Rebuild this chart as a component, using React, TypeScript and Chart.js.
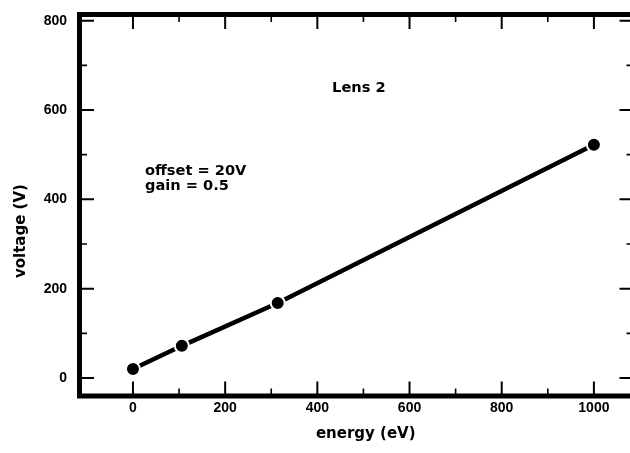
import React, { useEffect, useRef } from "react";
import { Chart, registerables } from "chart.js";

Chart.register(...registerables);

const energy = [0, 106, 314, 1000];
const voltage = [20, 72, 168, 522];

const xMajorTicks = [0, 200, 400, 600, 800, 1000];
const xMinorTicks = [100, 300, 500, 700, 900];
const yMajorTicks = [0, 200, 400, 600, 800];
const yMinorTicks = [100, 300, 500, 700];

const xRange = [-116, 1087];
const yRange = [-40.3, 813.8];

const noteTexts = ["Lens 2", "offset = 20V", "gain = 0.5"];
const noteX = [432, 26, 26];
const noteY = [640, 454, 421];

const xTitle = "energy (eV)";
const yTitle = "voltage (V)";
const xTitleAt = 505;
const yTitleAt = 329;

const TEXT_FONT = "bold 14.6px 'DejaVu Sans'";
const TITLE_FONT = "bold 15px 'DejaVu Sans'";

const AREA = { left: 79.5, top: 14.5, right: 634, bottom: 396 };
const CANVAS_W = 630;
const CANVAS_H = 453;

const areaPlugin = {
  id: "areaPlugin",
  afterLayout(chart: any) {
    const ca = chart.chartArea;
    ca.left = AREA.left;
    ca.right = AREA.right;
    ca.top = AREA.top;
    ca.bottom = AREA.bottom;
    ca.width = AREA.right - AREA.left;
    ca.height = AREA.bottom - AREA.top;
    const xs = chart.scales.x;
    xs.left = AREA.left;
    xs.right = AREA.right;
    xs.width = AREA.right - AREA.left;
    xs.top = AREA.bottom;
    xs.bottom = CANVAS_H;
    xs.height = CANVAS_H - AREA.bottom;
    xs.configure();
    const ys = chart.scales.y;
    ys.left = 0;
    ys.right = AREA.left;
    ys.width = AREA.left;
    ys.top = AREA.top;
    ys.bottom = AREA.bottom;
    ys.height = AREA.bottom - AREA.top;
    ys.configure();
  },
};

const framePlugin = {
  id: "framePlugin",
  afterDraw(chart: any) {
    const { ctx, chartArea, scales } = chart;
    const xs = scales.x;
    const ys = scales.y;
    const { left, right, top, bottom } = chartArea;
    ctx.save();
    ctx.strokeStyle = "#000";
    ctx.lineCap = "butt";
    const drawX = (vals: number[], len: number, w: number) => {
      ctx.lineWidth = w;
      vals.forEach((v) => {
        const px = xs.getPixelForValue(v);
        ctx.beginPath();
        ctx.moveTo(px, bottom);
        ctx.lineTo(px, bottom - len);
        ctx.moveTo(px, top);
        ctx.lineTo(px, top + len);
        ctx.stroke();
      });
    };
    const drawY = (vals: number[], len: number, w: number) => {
      ctx.lineWidth = w;
      vals.forEach((v) => {
        const py = ys.getPixelForValue(v);
        ctx.beginPath();
        ctx.moveTo(left, py);
        ctx.lineTo(left + len, py);
        ctx.moveTo(right, py);
        ctx.lineTo(right - len, py);
        ctx.stroke();
      });
    };
    drawX(xMajorTicks, 14.5, 2);
    drawX(xMinorTicks, 7.5, 1.6);
    drawY(yMajorTicks, 14.5, 2);
    drawY(yMinorTicks, 7.5, 1.6);
    ctx.lineWidth = 5;
    ctx.strokeRect(left, top, right - left, bottom - top);
    ctx.fillStyle = "#000";
    ctx.font = TEXT_FONT;
    ctx.textAlign = "left";
    ctx.textBaseline = "alphabetic";
    noteTexts.forEach((t, i) => {
      ctx.fillText(t, xs.getPixelForValue(noteX[i]), ys.getPixelForValue(noteY[i]));
    });
    ctx.font = TITLE_FONT;
    ctx.textAlign = "center";
    ctx.fillText(xTitle, xs.getPixelForValue(xTitleAt), bottom + 42);
    ctx.save();
    ctx.translate(left - 54.5, ys.getPixelForValue(yTitleAt));
    ctx.rotate(-Math.PI / 2);
    ctx.fillText(yTitle, 0, 0);
    ctx.restore();
    ctx.restore();
  },
};

export default function App() {
  const ref = useRef<HTMLCanvasElement>(null);
  useEffect(() => {
    if (!ref.current) return;
    const chart = new Chart(ref.current, {
      type: "scatter",
      data: {
        datasets: [
          {
            data: energy.map((e, i) => ({ x: e, y: voltage[i] })),
            showLine: true,
            borderColor: "#000",
            borderWidth: 4.5,
            backgroundColor: "#000",
            pointRadius: 7,
            pointBorderWidth: 2,
            pointBorderColor: "#fff",
            pointBackgroundColor: "#000",
          },
        ],
      },
      options: {
        responsive: false,
        maintainAspectRatio: false,
        animation: false,
        devicePixelRatio: 1,
        plugins: { legend: { display: false }, tooltip: { enabled: false } },
        scales: {
          x: {
            type: "linear",
            min: xRange[0],
            max: xRange[1],
            grid: { display: false, drawTicks: false },
            border: { display: false },
            afterBuildTicks: (s: any) => {
              s.ticks = xMajorTicks.map((v) => ({ value: v }));
            },
            ticks: {
              color: "#000",
              padding: 4,
              maxRotation: 0,
              autoSkip: false,
              callback: (v: any) => String(v),
              font: { family: "'Liberation Sans'", size: 14, weight: "bold" },
            },
          },
          y: {
            type: "linear",
            min: yRange[0],
            max: yRange[1],
            grid: { display: false, drawTicks: false },
            border: { display: false },
            afterBuildTicks: (s: any) => {
              s.ticks = yMajorTicks.map((v) => ({ value: v }));
            },
            ticks: {
              color: "#000",
              padding: 12.5,
              autoSkip: false,
              callback: (v: any) => String(v),
              font: { family: "'Liberation Sans'", size: 14, weight: "bold" },
            },
          },
        },
      },
      plugins: [areaPlugin, framePlugin],
    } as any);
    return () => chart.destroy();
  }, []);
  return (
    <div
      style={{
        position: "fixed",
        left: 0,
        top: 0,
        width: CANVAS_W,
        height: CANVAS_H,
        overflow: "hidden",
        background: "#fff",
      }}
    >
      <canvas
        ref={ref}
        width={CANVAS_W}
        height={CANVAS_H}
        style={{ display: "block", width: CANVAS_W, height: CANVAS_H }}
      />
    </div>
  );
}
